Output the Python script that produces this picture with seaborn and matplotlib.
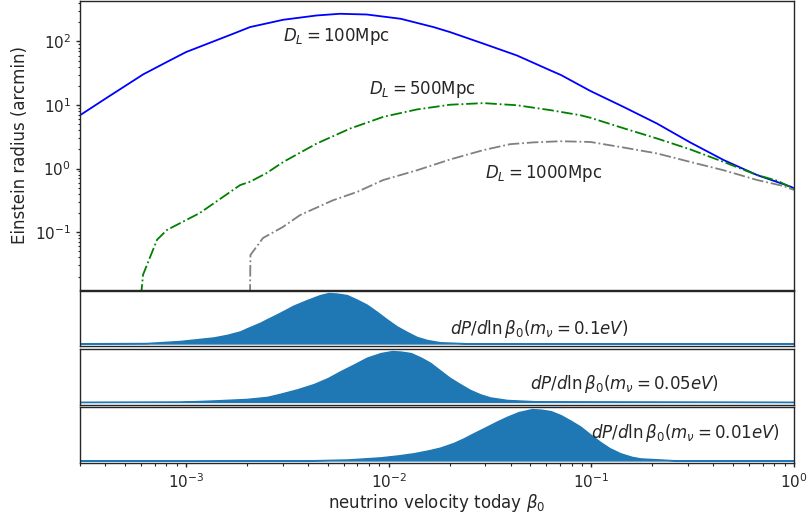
import numpy as np
import pandas as pd
import seaborn as sns
import matplotlib
matplotlib.use("Agg")
import matplotlib.pyplot as plt

# ----------------------------------------------------------------------------
# Data
# ----------------------------------------------------------------------------
# Einstein radius (arcmin) vs neutrino velocity today beta_0
beta_100 = [3.0e-4, 4.13e-4, 6.15e-4, 8.03e-4, 1.0e-3, 1.71e-3, 2.07e-3, 3.02e-3,
            4.42e-3, 5.75e-3, 7.8e-3, 0.01146, 0.01665, 0.0201, 0.0294, 0.043,
            0.0628, 0.071, 0.099, 0.1445, 0.211, 0.308, 0.450, 0.658, 0.961, 1.0]
theta_100 = [6.9, 13.4, 30.3, 47.3, 67.9, 132, 168, 219,
             256, 272, 265, 227, 168, 140, 92, 60,
             35, 29.5, 16.6, 9.3, 5.1, 2.57, 1.36, 0.79, 0.52, 0.49]

beta_500 = [6.0e-4, 6.14e-4, 7.2e-4, 8.05e-4, 1.17e-3, 1.85e-3, 2.07e-3, 2.5e-3,
            3.02e-3, 4.42e-3, 6.46e-3, 9.4e-3, 0.01377, 0.0201, 0.0294, 0.043,
            0.0628, 0.0883, 0.0989, 0.1445, 0.211, 0.308, 0.450, 0.658, 0.826, 1.0]
theta_500 = [0.01, 0.0214, 0.076, 0.108, 0.20, 0.55, 0.62, 0.85,
             1.27, 2.48, 4.26, 6.5, 8.5, 10.1, 10.7, 9.9,
             8.3, 6.9, 6.3, 4.3, 2.97, 2.0, 1.27, 0.79, 0.645, 0.48]

beta_1000 = [2.07e-3, 2.08e-3, 2.4e-3, 3.0e-3, 3.66e-3, 5.3e-3, 7.0e-3, 9.4e-3,
             0.0138, 0.0201, 0.0293, 0.0398, 0.0518, 0.0703, 0.0989, 0.1445,
             0.211, 0.308, 0.450, 0.658, 0.89, 1.0]
theta_1000 = [0.01, 0.0437, 0.081, 0.12, 0.186, 0.316, 0.43, 0.66,
              0.94, 1.39, 1.95, 2.42, 2.58, 2.69, 2.62, 2.14,
              1.73, 1.27, 0.94, 0.66, 0.53, 0.46]

# dP/dln beta_0 (normalised to the peak)
beta_m01 = [3.0e-4, 6.4e-4, 9.33e-4, 1.365e-3, 1.589e-3, 1.849e-3, 1.995e-3, 2.317e-3,
            2.505e-3, 2.911e-3, 3.388e-3, 3.943e-3, 4.59e-3, 5.05e-3, 5.55e-3, 6.22e-3,
            6.97e-3, 7.80e-3, 8.74e-3, 9.79e-3, 1.097e-2, 1.23e-2, 1.377e-2, 1.545e-2,
            1.795e-2, 2.62e-2, 1.0]
dp_m01 = [0.005, 0.01, 0.05, 0.12, 0.17, 0.24, 0.30, 0.41,
          0.48, 0.61, 0.75, 0.86, 0.96, 1.0, 0.99, 0.96,
          0.87, 0.77, 0.63, 0.48, 0.34, 0.23, 0.13, 0.07,
          0.025, 0.0, 0.0]

beta_m005 = [3.0e-4, 9.33e-4, 1.365e-3, 1.995e-3, 2.512e-3, 2.911e-3, 3.548e-3, 4.256e-3,
             5.012e-3, 5.754e-3, 6.761e-3, 7.80e-3, 9.12e-3, 1.038e-2, 1.148e-2, 1.288e-2,
             1.445e-2, 1.603e-2, 1.795e-2, 1.995e-2, 2.254e-2, 2.512e-2, 2.831e-2, 3.162e-2,
             3.837e-2, 5.598e-2, 1.0]
dp_m005 = [0.0, 0.005, 0.03, 0.06, 0.10, 0.16, 0.25, 0.35,
           0.47, 0.60, 0.74, 0.87, 0.96, 1.0, 0.99, 0.96,
           0.87, 0.77, 0.62, 0.48, 0.35, 0.24, 0.15, 0.09,
           0.04, 0.01, 0.0]

beta_m001 = [3.0e-4, 4.256e-3, 6.31e-3, 9.08e-3, 1.122e-2, 1.327e-2, 1.585e-2, 1.795e-2,
             2.089e-2, 2.344e-2, 2.624e-2, 3.02e-2, 3.388e-2, 3.837e-2, 4.365e-2, 5.093e-2,
             5.623e-2, 6.31e-2, 7.079e-2, 7.943e-2, 8.831e-2, 0.1, 0.1107, 0.123,
             0.139, 0.1585, 0.1746, 0.2547, 1.0]
dp_m001 = [0.0, 0.005, 0.02, 0.06, 0.10, 0.14, 0.20, 0.25,
           0.34, 0.43, 0.53, 0.65, 0.75, 0.85, 0.94, 1.0,
           0.99, 0.96, 0.88, 0.77, 0.66, 0.49, 0.36, 0.24,
           0.14, 0.07, 0.04, 0.005, 0.0]

curve_labels = [r"$D_L=100$Mpc", r"$D_L=500$Mpc", r"$D_L=1000$Mpc"]
curve_label_pos = [(3.0e-3, 100), (8.0e-3, 15), (0.030, 0.70)]
dist_labels = [r"$dP/d\ln\beta_0(m_\nu=0.1eV)$",
               r"$dP/d\ln\beta_0(m_\nu=0.05eV)$",
               r"$dP/d\ln\beta_0(m_\nu=0.01eV)$"]
dist_label_pos = [(0.020, 0.28), (0.050, 0.35), (0.10, 0.53)]

# ----------------------------------------------------------------------------
# Style
# ----------------------------------------------------------------------------
sns.set_theme(style="ticks", context="notebook")
plt.rcParams.update({
    "axes.linewidth": 1.0,
    "xtick.major.size": 3, "xtick.minor.size": 1.8,
    "ytick.major.size": 3, "ytick.minor.size": 1.8,
    "xtick.major.width": 1.0, "ytick.major.width": 1.0,
    "xtick.minor.width": 0.8, "ytick.minor.width": 0.8,
})

fig = plt.figure(figsize=(8.09, 5.14), dpi=100)
H = 514.0
L, W = 80 / 809, 714 / 809
ax_top = fig.add_axes([L, 1 - 290 / H, W, 289.5 / H])
ax_p1 = fig.add_axes([L, 1 - 346 / H, W, 55.5 / H])
ax_p2 = fig.add_axes([L, 1 - 404.5 / H, W, 56 / H])
ax_p3 = fig.add_axes([L, 1 - 463 / H, W, 56.5 / H])

XLIM = (3e-4, 1.0)

# ----------------------------------------------------------------------------
# Top panel: Einstein radius
# ----------------------------------------------------------------------------
ax_top.set_xscale("log")
ax_top.set_yscale("log")
curves = [
    (beta_100, theta_100, "blue", "-"),
    (beta_500, theta_500, "green", "-."),
    (beta_1000, theta_1000, "gray", "-."),
]
for bx, ty, col, ls in curves:
    df = pd.DataFrame({"beta": bx, "theta": ty})
    sns.lineplot(data=df, x="beta", y="theta", color=col, linestyle=ls,
                 linewidth=1.3, sort=False, estimator=None, ax=ax_top)

for txt, (tx, ty) in zip(curve_labels, curve_label_pos):
    ax_top.text(tx, ty, txt, fontsize=12, ha="left", va="baseline")

ax_top.set_xlim(*XLIM)
ax_top.set_ylim(0.0123, 440)
ax_top.set_xlabel("")
ax_top.set_ylabel("Einstein radius (arcmin)", fontsize=12)
ax_top.tick_params(axis="x", which="both", bottom=False, labelbottom=False)

# ----------------------------------------------------------------------------
# Lower panels: velocity distributions
# ----------------------------------------------------------------------------
panels = [
    (ax_p1, beta_m01, dp_m01),
    (ax_p2, beta_m005, dp_m005),
    (ax_p3, beta_m001, dp_m001),
]
for (ax, bx, dp), txt, (tx, ty) in zip(panels, dist_labels, dist_label_pos):
    ax.set_xscale("log")
    ax.fill_between(bx, dp, color="#1f77b4", linewidth=1.0)
    ax.set_xlim(*XLIM)
    ax.set_yticks([])
    ax.text(tx, ty, txt, fontsize=12, ha="left", va="center")

for ax in (ax_p1, ax_p2):
    ax.tick_params(axis="x", which="both", bottom=False, labelbottom=False)

ax_p3.set_xlabel(r"neutrino velocity today $\beta_0$", fontsize=12, labelpad=1)

fig.savefig("out.png", dpi=100)
